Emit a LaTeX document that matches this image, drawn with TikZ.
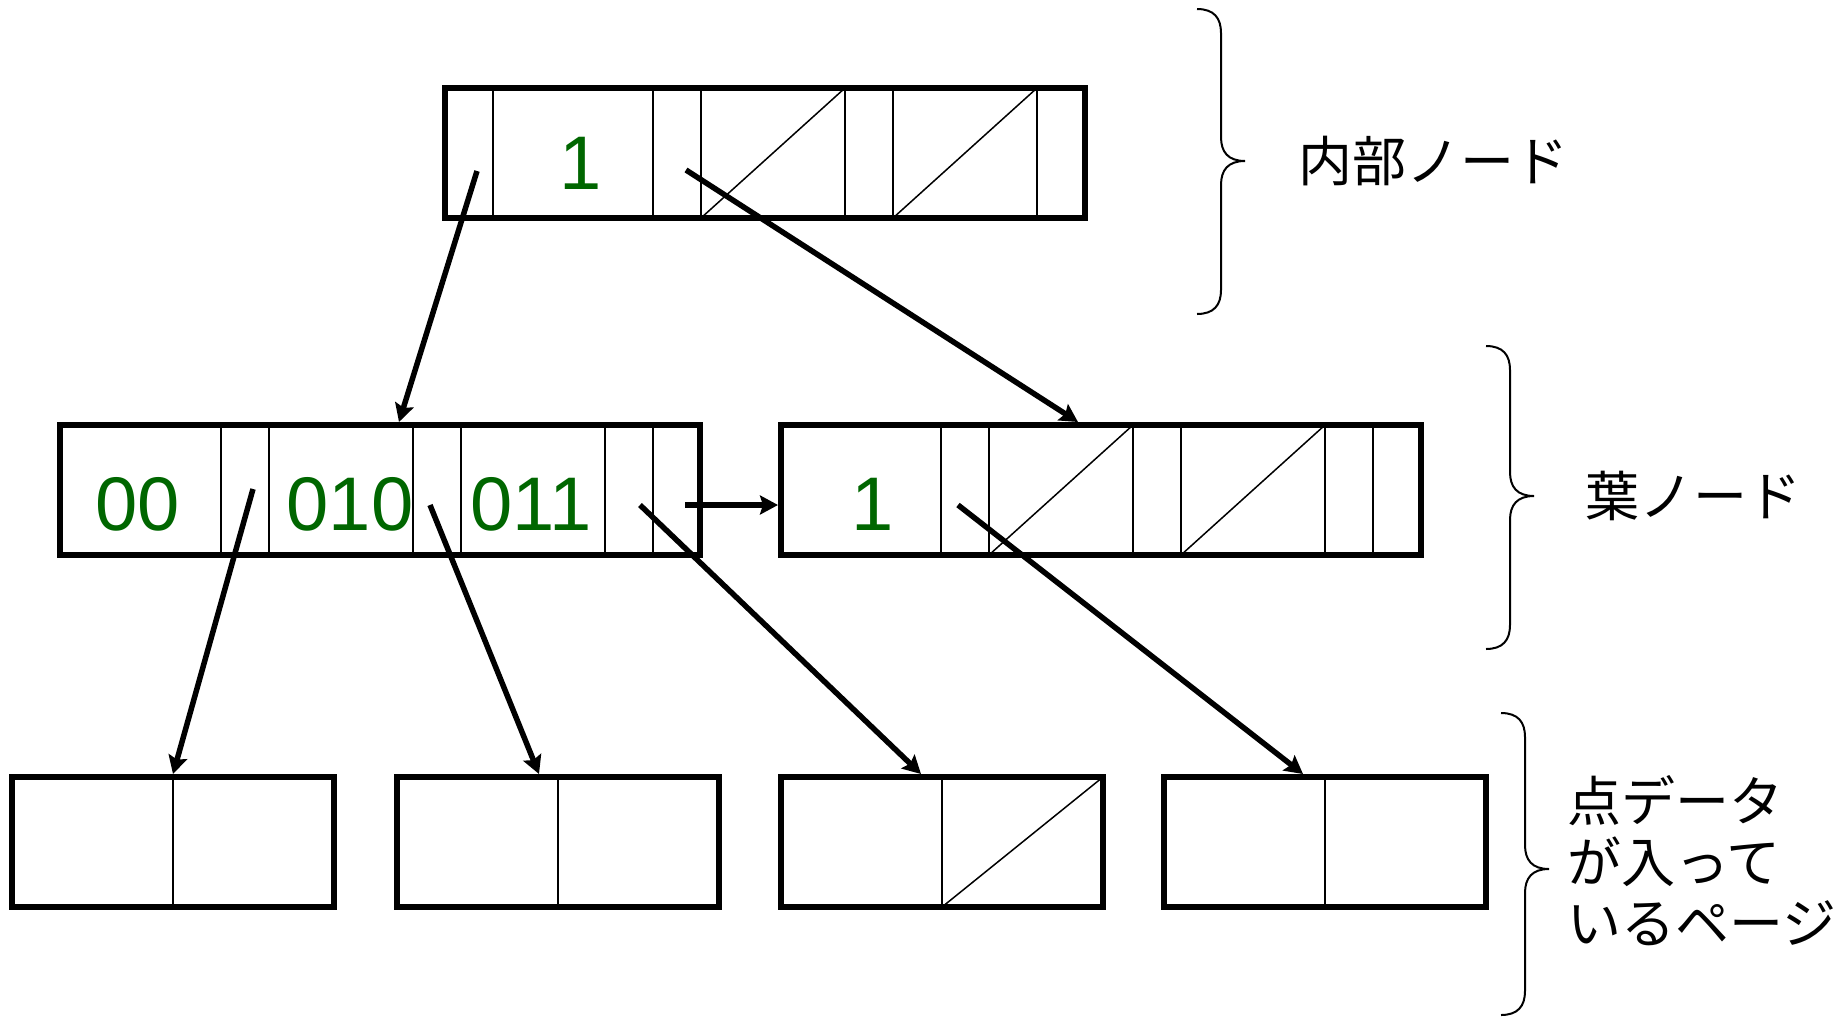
\documentclass[tikz,border=0pt]{standalone}
\usepackage{fontspec}
\setmainfont{Liberation Sans}
\newfontfamily\jpfont{Noto Sans CJK JP}
\usetikzlibrary{arrows.meta}
\definecolor{keygreen}{RGB}{0,102,0}

\begin{document}
\begin{tikzpicture}[x=1pt,y=-1pt,
  pagebox/.style={draw, line width=6pt, rectangle, inner sep=0pt, outer sep=0pt,
                  minimum height=130pt, anchor=north west},
  divider/.style={line width=1.8pt},
  voidslash/.style={line width=1.5pt},
  link/.style={line width=5.5pt, -{Stealth[length=18pt,width=19pt,inset=3pt]}},
  bracepen/.style={line width=2pt},
  keytext/.style={text=keygreen, font=\fontsize{76}{80}\selectfont, anchor=base, inner sep=0pt},
  tag/.style={font=\jpfont\fontsize{54}{61}\selectfont, anchor=west, inner sep=0pt, align=left}]

\useasboundingbox (0,0) rectangle (1846,1018);

% internal node
\node[pagebox, minimum width=640pt] (inode) at (445,88) {};
\foreach \d in {48,208,256,400,448,592}
  \draw[divider] ([xshift=\d pt]inode.north west) -- ([xshift=\d pt]inode.south west);
\draw[voidslash] ([xshift=256pt]inode.south west) -- ([xshift=400pt]inode.north west);
\draw[voidslash] ([xshift=448pt]inode.south west) -- ([xshift=592pt]inode.north west);
\node[keytext] (ik1) at (581,189) {1};

% leaf nodes
\node[pagebox, minimum width=640pt] (leafL) at (60,425) {};
\foreach \d in {161,209,353,401,545,593}
  \draw[divider] ([xshift=\d pt]leafL.north west) -- ([xshift=\d pt]leafL.south west);
\node[keytext] (lk1) at (138,530) {00};
\node[keytext] (lk2) at (350,530) {010};
\node[keytext] (lk3) at (531,530) {011};

\node[pagebox, minimum width=640pt] (leafR) at (781,425) {};
\foreach \d in {160,208,352,400,544,592}
  \draw[divider] ([xshift=\d pt]leafR.north west) -- ([xshift=\d pt]leafR.south west);
\draw[voidslash] ([xshift=208pt]leafR.south west) -- ([xshift=352pt]leafR.north west);
\draw[voidslash] ([xshift=400pt]leafR.south west) -- ([xshift=544pt]leafR.north west);
\node[keytext] (rk1) at (873,530) {1};

% data pages
\foreach \n/\x in {pg1/12,pg2/397,pg3/781,pg4/1164} {
  \node[pagebox, minimum width=322pt] (\n) at (\x,777) {};
  \draw[divider] ([xshift=161pt]\n.north west) -- ([xshift=161pt]\n.south west);
}
\draw[voidslash] ([xshift=161pt]pg3.south west) -- (pg3.north east);

% pointer origins and targets
\coordinate (s1) at (477,171);
\coordinate (s2) at (686,170);
\coordinate (s3) at (253,489);
\coordinate (s4) at (430,505);
\coordinate (s5) at (640,505);
\coordinate (s6) at (958,505);
\coordinate (s7) at (685,505);
\coordinate (t1) at (399,422);
\coordinate (t2) at (1078,422);
\coordinate (t3) at (173,774);
\coordinate (t4) at (539,774);
\coordinate (t5) at (921,774);
\coordinate (t6) at (1303,774);
\coordinate (t7) at (778,505);

\foreach \i in {1,...,7}
  \draw[link] (s\i) -- (t\i);

% braces
\draw[bracepen] (1197,9) .. controls (1214,9) and (1221,18) .. (1221,33)
  -- (1221,137) .. controls (1221,152) and (1228,161) .. (1245,161)
  .. controls (1228,161) and (1221,170) .. (1221,185)
  -- (1221,290) .. controls (1221,305) and (1214,314) .. (1197,314);
\draw[bracepen] (1486,346) .. controls (1503,346) and (1510,355) .. (1510,370)
  -- (1510,472) .. controls (1510,487) and (1517,496) .. (1534,496)
  .. controls (1517,496) and (1510,505) .. (1510,520)
  -- (1510,625) .. controls (1510,640) and (1503,649) .. (1486,649);
\draw[bracepen] (1501,713) .. controls (1518,713) and (1525,722) .. (1525,737)
  -- (1525,845) .. controls (1525,860) and (1532,869) .. (1549,869)
  .. controls (1532,869) and (1525,878) .. (1525,893)
  -- (1525,991) .. controls (1525,1006) and (1518,1015) .. (1501,1015);

% labels
\node[tag] (lab1) at (1298,161) {内部ノード};
\node[tag] (lab2) at (1585,496) {葉ノード};
\node[tag] (lab3) at (1567,861) {点データ\\が入って\\いるページ};
\end{tikzpicture}
\end{document}
